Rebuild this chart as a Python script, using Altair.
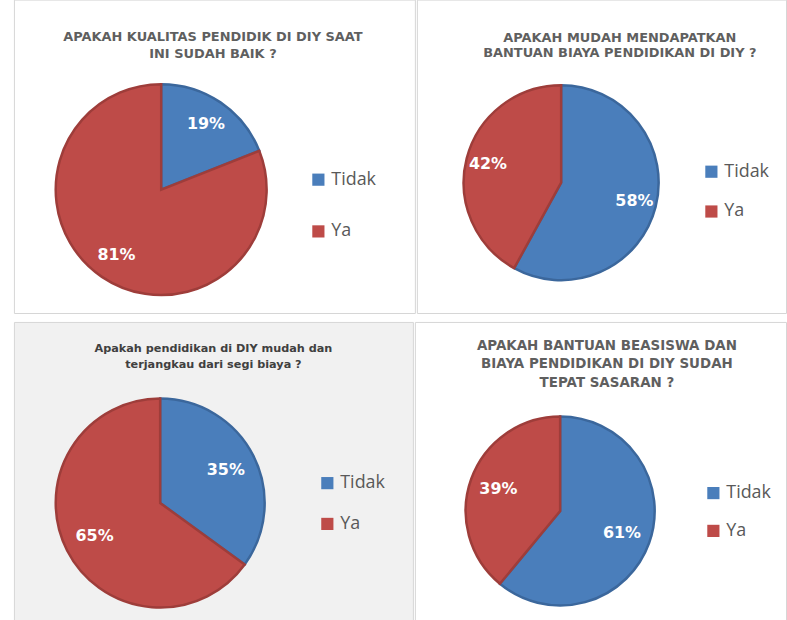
import altair as alt
import pandas as pd

categories = ["Tidak", "Ya"]
q1_values = [19, 81]
q2_values = [58, 42]
q3_values = [35, 65]
q4_values = [61, 39]

q1_title = ["APAKAH KUALITAS PENDIDIK DI DIY SAAT", "INI SUDAH BAIK ?"]
q2_title = ["APAKAH MUDAH MENDAPATKAN", "BANTUAN BIAYA PENDIDIKAN DI DIY ?"]
q3_title = ["Apakah pendidikan di DIY mudah dan", "terjangkau dari segi biaya ?"]
q4_title = ["APAKAH BANTUAN BEASISWA DAN", "BIAYA PENDIDIKAN DI DIY SUDAH", "TEPAT SASARAN ?"]

FILL = ["#4a7ebb", "#be4b48"]
EDGE = ["#3b679c", "#9e3d3a"]


def panel(values, title_lines, w, h, cx, cy, r, lr, lx, ly, rowpad,
          t_off, t_dx, t_lh, t_size, t_color, bg="white"):
    df = pd.DataFrame({
        "cat": categories,
        "value": values,
        "idx": list(range(len(categories))),
    })
    df["label"] = [f"{v}%" for v in values]
    base = alt.Chart(df).encode(
        theta=alt.Theta("value:Q", stack=True),
        order=alt.Order("idx:Q"),
    )
    arc = base.mark_arc(outerRadius=r, strokeWidth=2.5).encode(
        x=alt.value(cx),
        y=alt.value(cy),
        color=alt.Color(
            "cat:N",
            scale=alt.Scale(domain=categories, range=FILL),
            legend=alt.Legend(
                title=None, orient="none", legendX=lx, legendY=ly,
                symbolType="square", symbolSize=150, symbolStrokeWidth=0,
                labelFontSize=18, labelFont="Open Sans", labelColor="#595959",
                labelOffset=4, rowPadding=rowpad, padding=0,
            ),
        ),
        stroke=alt.Stroke(
            "cat:N", scale=alt.Scale(domain=categories, range=EDGE), legend=None
        ),
    )
    txt = base.mark_text(
        radius=lr, fontSize=16, fontWeight="bold", font="DejaVu Sans",
        color="white",
    ).encode(x=alt.value(cx), y=alt.value(cy), text="label:N")
    return alt.layer(arc, txt).properties(
        width=w,
        height=h,
        view=alt.ViewBackground(fill=bg, stroke="#d6d6d6", strokeWidth=1),
        title=alt.TitleParams(
            text=title_lines, anchor="middle", baseline="top",
            offset=t_off, dx=t_dx, lineHeight=t_lh, fontSize=t_size,
            font="DejaVu Sans", fontWeight="bold", color=t_color,
        ),
    )


p1 = panel(q1_values, q1_title, 403, 315, 148, 191, 106, 80, 297, 172, 34,
           -62, -1.5, 17, 13, "#5f5f5f")
p2 = panel(q2_values, q2_title, 371, 315, 145, 184, 98, 76, 287, 164, 22,
           -61, 18.5, 15.5, 13, "#5f5f5f")
p3 = panel(q3_values, q3_title, 401, 300, 147, 182, 105, 74, 306, 153, 23,
           -48.5, 0, 16, 11.3, "#404040", bg="#f1f1f1")
p4 = panel(q4_values, q4_title, 373, 300, 146, 190, 95, 66, 291, 163, 20,
           -67.5, 6.5, 18.5, 13.5, "#5f5f5f")

row1 = alt.hconcat(p1, p2, spacing=0).resolve_scale(
    color="independent", stroke="independent"
).resolve_legend(color="independent")
row2 = alt.hconcat(p3, p4, spacing=0).resolve_scale(
    color="independent", stroke="independent"
).resolve_legend(color="independent")

chart = alt.vconcat(
    row1, row2,
    spacing=7,
    padding={"left": 13, "top": -3, "right": 0, "bottom": 0},
).resolve_scale(
    color="independent", stroke="independent"
).resolve_legend(color="independent").configure(background="white")

chart.save("out.html", embed_options={"renderer": "svg", "actions": False})
